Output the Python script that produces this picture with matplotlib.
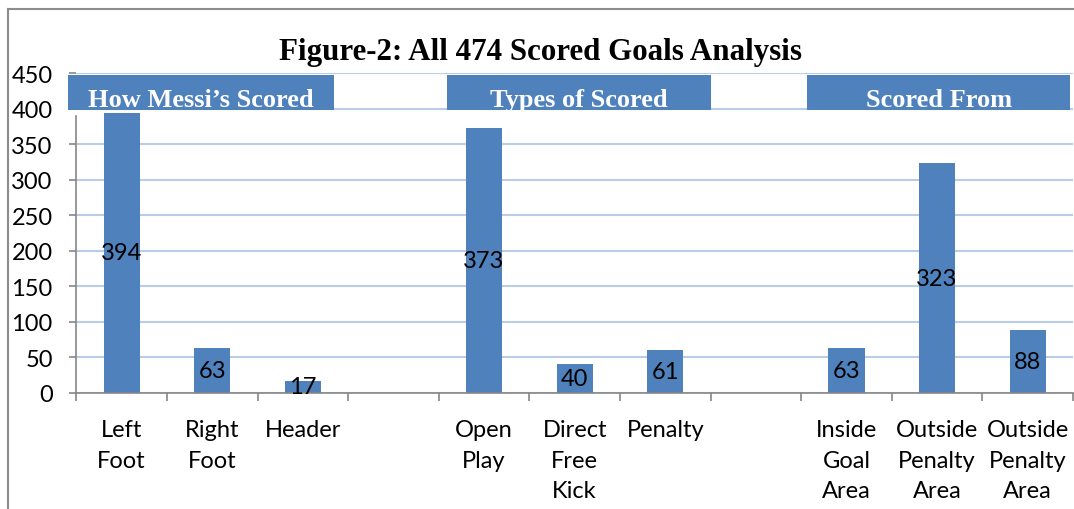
import matplotlib
matplotlib.use("Agg")
import matplotlib.pyplot as plt
from matplotlib.patches import Rectangle
from matplotlib.lines import Line2D

# chart data (blank entries are the spacer columns between groups)
categories = ["Left\nFoot", "Right\nFoot", "Header", "",
              "Open\nPlay", "Direct\nFree\nKick", "Penalty", "",
              "Inside\nGoal\nArea", "Outside\nPenalty\nArea", "Outside\nPenalty\nArea"]
goals = [394, 63, 17, 0, 373, 40, 61, 0, 63, 323, 88]

group_titles = ["How Messi\u2019s Scored", "Types of Scored", "Scored From"]
group_first = [0, 4, 8]
group_last = [2, 6, 10]

title = "Figure-2: All 474 Scored Goals Analysis"
y_ticks = [0, 50, 100, 150, 200, 250, 300, 350, 400, 450]

BLUE = "#4F81BD"
GRID = "#B9CDE8"
AXIS = "#868686"

fig = plt.figure(figsize=(10.74, 5.10), dpi=100)
ax = fig.add_axes([0.0711, 0.2278, 0.9279, 0.6265])

x = list(range(len(categories)))
ax.bar(x, goals, width=0.4, color=BLUE, zorder=2)

for xi, v in zip(x, goals):
    if v > 0:
        ax.text(xi, v / 2, str(v), ha="center", va="center",
                fontsize=17, family="Lato", color="black", zorder=3)

ax.set_xlim(-0.5, len(categories) - 0.5)
ax.set_ylim(0, 450)

ax.set_yticks(y_ticks)
ax.set_yticklabels([str(t) for t in y_ticks], fontsize=17, family="Lato")
ax.yaxis.grid(True, color=GRID, linewidth=1.5, zorder=0)
ax.set_axisbelow(True)

ax.set_xticks(x)
ax.set_xticklabels(categories, fontsize=17, family="Lato", linespacing=1.55)
ax.set_xticks([i - 0.5 for i in range(len(categories) + 1)], minor=True)
ax.tick_params(axis="x", which="major", length=0, pad=19)
ax.tick_params(axis="x", which="minor", length=6, width=1.2, color=AXIS)
ax.tick_params(axis="y", length=5, width=1.2, color=AXIS, pad=12)

for s in ["top", "right"]:
    ax.spines[s].set_visible(False)
ax.spines["left"].set_color(AXIS)
ax.spines["left"].set_linewidth(1.2)
ax.spines["left"].set_bounds(0, 390)
ax.spines["bottom"].set_color(AXIS)
ax.spines["bottom"].set_linewidth(1.2)

# group header boxes over the top of the plot
box_pad = [(0.59, 0.34), (0.41, 0.51), (0.43, 0.47)]
for name, a, b, (pl, pr) in zip(group_titles, group_first, group_last, box_pad):
    ax.add_patch(Rectangle((a - pl, 398.6), (b + pr) - (a - pl), 49.0,
                           facecolor=BLUE, edgecolor="none", zorder=4, clip_on=False))
    ax.text((a - pl + b + pr) / 2, 403.5, name, ha="center", va="baseline",
            fontsize=19, fontweight="bold", family="Liberation Serif",
            color="white", zorder=5, clip_on=False)

fig.text(0.503, 0.882, title, ha="center", va="baseline", fontsize=22.3,
         fontweight="bold", family="Liberation Serif")

# page frame on the left and top
fig.add_artist(Line2D([0.0071, 0.0071], [0, 0.98], color="#8C8C8C", linewidth=1.5))
fig.add_artist(Line2D([0.0071, 1.0], [0.98, 0.98], color="#8C8C8C", linewidth=1.5))

fig.savefig("out.png", dpi=100)
